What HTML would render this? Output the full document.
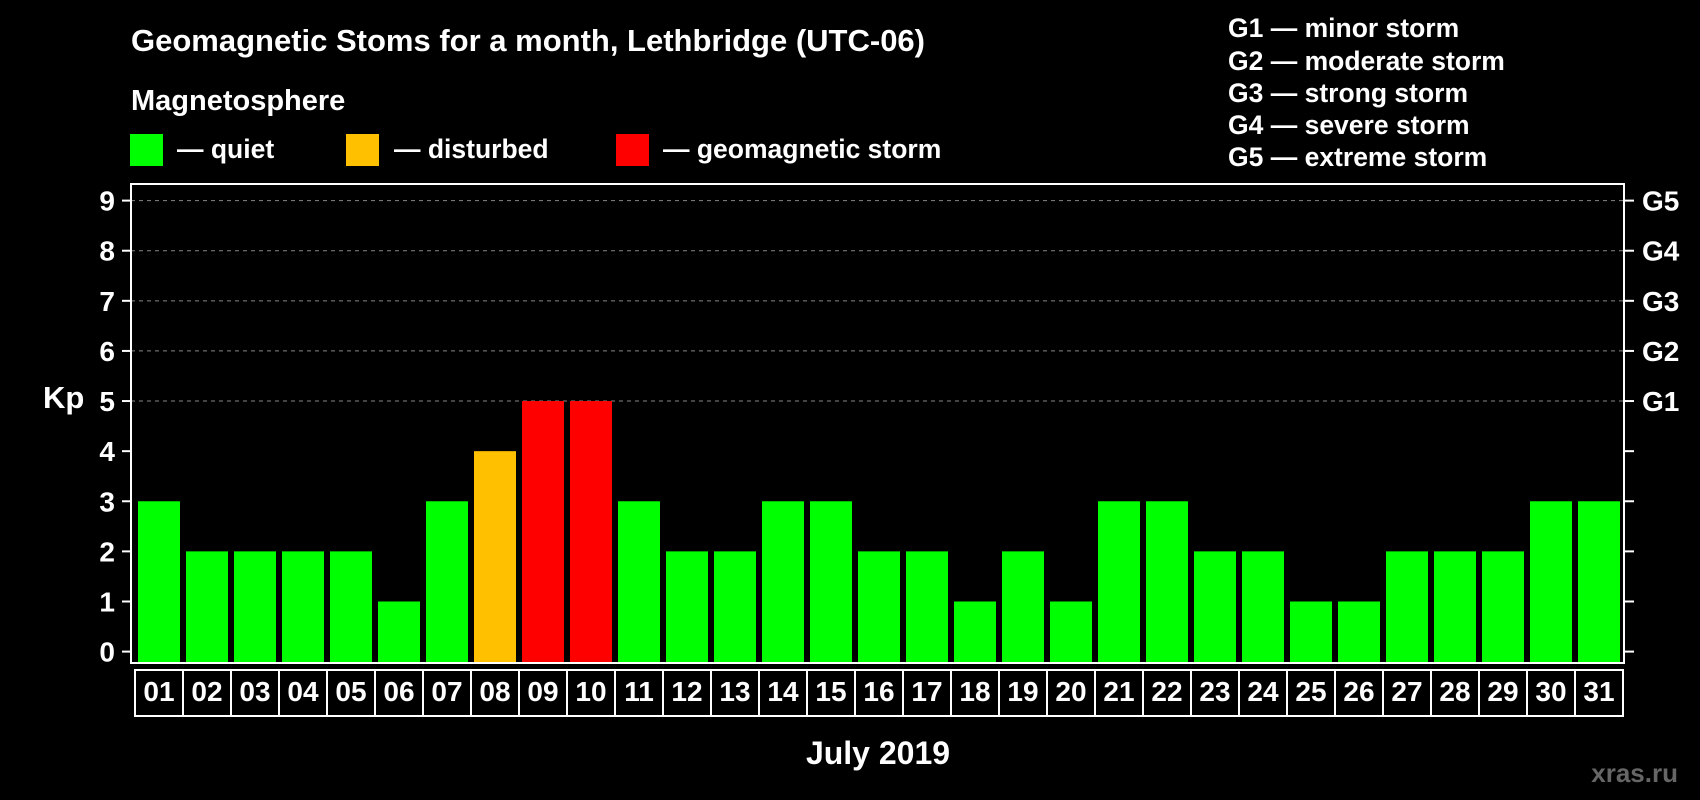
<!DOCTYPE html>
<html><head><meta charset="utf-8"><style>
body{margin:0;background:#000;width:1700px;height:800px;overflow:hidden}
svg{display:block;font-family:"Liberation Sans",Arial,sans-serif;font-weight:bold}
</style></head><body>
<svg id="c" width="1700" height="800">
<text x="131" y="51" fill="#fff" font-size="31">Geomagnetic Stoms for a month, Lethbridge (UTC-06)</text>
<text x="131" y="110" fill="#fff" font-size="29">Magnetosphere</text>
<rect x="130" y="134" width="33" height="32" fill="#00ff00"/>
<text x="177" y="158" fill="#fff" font-size="26.5">— quiet</text>
<rect x="346" y="134" width="33" height="32" fill="#ffc000"/>
<text x="394" y="158" fill="#fff" font-size="26.5">— disturbed</text>
<rect x="616" y="134" width="33" height="32" fill="#ff0000"/>
<text x="663" y="158" fill="#fff" font-size="26.5">— geomagnetic storm</text>
<g font-size="26.5" fill="#fff">
<text x="1228" y="37">G1 — minor storm</text>
<text x="1228" y="70">G2 — moderate storm</text>
<text x="1228" y="102">G3 — strong storm</text>
<text x="1228" y="134">G4 — severe storm</text>
<text x="1228" y="166">G5 — extreme storm</text>
</g>
<text x="43" y="408" fill="#fff" font-size="31">Kp</text>
<text x="878" y="764" fill="#fff" font-size="32" text-anchor="middle">July 2019</text>
<text x="1678" y="782" fill="#666" font-size="26" text-anchor="end">xras.ru</text>
<g id="plot"></g>
</svg>
<script>
const days=["01","02","03","04","05","06","07","08","09","10","11","12","13","14","15","16","17","18","19","20","21","22","23","24","25","26","27","28","29","30","31"];
const kpValues=[3,2,2,2,2,1,3,4,5,5,3,2,2,3,3,2,2,1,2,1,3,3,2,2,1,1,2,2,2,3,3];
const yTicks=[0,1,2,3,4,5,6,7,8,9];
const gLabels=["","","","","","G1","G2","G3","G4","G5"];
const NS="http://www.w3.org/2000/svg";
const g=document.getElementById('plot');
const L=131,R=1624,T=184,B=663;
const y=v=>651.6-v*(651.6-200.6)/9;
const xb=i=>138+i*48;
function mk(t,a){const e=document.createElementNS(NS,t);for(const k in a)e.setAttribute(k,a[k]);g.appendChild(e);return e;}
yTicks.forEach((v,i)=>{
 if(v>=5){const l=mk('line',{x1:L,x2:R,y1:y(v),y2:y(v),stroke:'#888','stroke-dasharray':'4 4','stroke-width':1});
 
 }
 const t1=mk('line',{x1:122,x2:L,y1:y(v),y2:y(v),stroke:'#fff','stroke-width':2});
 
 
 const t2=mk('line',{x1:R,x2:1634,y1:y(v),y2:y(v),stroke:'#fff','stroke-width':2});
 
 
 const tl=mk('text',{x:115,y:y(v)+10,fill:'#fff','font-size':28,'text-anchor':'end'});tl.textContent=v;
 
 
 if(gLabels[i]){const gl=mk('text',{x:1642,y:y(v)+10,fill:'#fff','font-size':28});gl.textContent=gLabels[i];
 
 }
});
kpValues.forEach((v,i)=>{
 const c=v>=5?'#ff0000':(v>=4?'#ffc000':'#00ff00');
 const r=mk('rect',{x:xb(i),y:y(v),width:42,height:B-y(v),fill:c});
 
 
 const bx=mk('rect',{x:135+i*48,y:670,width:48,height:46,fill:'none',stroke:'#fff','stroke-width':2});
 
 
 const dt=mk('text',{x:159+i*48,y:701,fill:'#fff','font-size':28,'text-anchor':'middle'});dt.textContent=days[i];
 
 
});
const fr=mk('rect',{x:L,y:T,width:R-L,height:B-T,fill:'none',stroke:'#fff','stroke-width':2});


</script>
</body></html>
